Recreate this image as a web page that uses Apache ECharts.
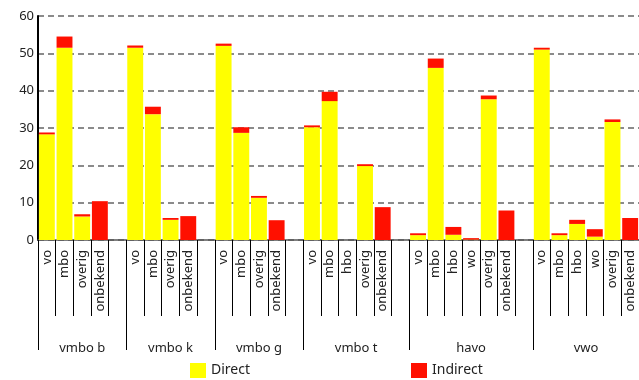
<!DOCTYPE html>
<html>
<head>
<meta charset="utf-8">
<script src="https://cdn.jsdelivr.net/npm/echarts@6/dist/echarts.min.js"></script>
<style>
  html, body { margin: 0; padding: 0; background: #fff; }
  #chart { width: 639px; height: 380px; }
</style>
</head>
<body>
<div id="chart"></div>
<script>
// groepen en subcategorieen
var groups = ['vmbo b', 'vmbo k', 'vmbo g', 'vmbo t', 'havo', 'vwo'];
var groupCats = [
  ['vo', 'mbo', 'overig', 'onbekend'],
  ['vo', 'mbo', 'overig', 'onbekend'],
  ['vo', 'mbo', 'overig', 'onbekend'],
  ['vo', 'mbo', 'hbo', 'overig', 'onbekend'],
  ['vo', 'mbo', 'hbo', 'wo', 'overig', 'onbekend'],
  ['vo', 'mbo', 'hbo', 'wo', 'overig', 'onbekend']
];
var directValues = [
  [28.3, 51.5, 6.3, 0],
  [51.5, 33.7, 5.4, 0],
  [52.0, 28.7, 11.3, 0],
  [30.2, 37.2, 0, 19.8, 0],
  [1.3, 46.1, 1.4, 0.1, 37.7, 0],
  [51.0, 1.3, 4.3, 0.9, 31.6, 0]
];
var indirectValues = [
  [0.5, 3.0, 0.6, 10.4],
  [0.6, 2.0, 0.5, 6.4],
  [0.6, 1.5, 0.5, 5.3],
  [0.5, 2.5, 0, 0.5, 8.8],
  [0.5, 2.5, 2.1, 0.4, 1.0, 7.9],
  [0.5, 0.5, 1.1, 2.0, 0.7, 5.9]
];
var yTicks = [0, 10, 20, 30, 40, 50, 60];

// platte lijsten met een lege kolom tussen de groepen
var cats = [], direct = [], indirect = [];
var bounds = [0], centers = [];
groups.forEach(function (g, i) {
  var start = cats.length;
  groupCats[i].forEach(function (c, j) {
    cats.push(c);
    direct.push(directValues[i][j]);
    indirect.push(indirectValues[i][j]);
  });
  if (i < groups.length - 1) {
    cats.push('');
    direct.push('-');
    indirect.push('-');
  }
  bounds.push(cats.length);
  centers.push((start + cats.length) / 2);
});

var font = 'Noto Sans';
var chart = echarts.init(document.getElementById('chart'));

var option = {
  animation: false,
  textStyle: { fontFamily: font },
  grid: { left: 38, right: 0, top: 16, bottom: 140, containLabel: false },
  legend: {
    left: 185,
    top: 358,
    itemWidth: 16,
    itemHeight: 15,
    itemGap: 161,
    icon: 'rect',
    textStyle: { fontFamily: font, fontSize: 14, color: '#222' },
    data: ['Direct', 'Indirect']
  },
  xAxis: [
    {
      type: 'category',
      data: cats,
      axisLine: { lineStyle: { color: '#555', width: 1.5 } },
      axisTick: { show: true, interval: 0, length: 76, lineStyle: { color: '#000', width: 1 } },
      axisLabel: {
        interval: 0,
        rotate: 90,
        margin: 10,
        fontFamily: font,
        fontSize: 13,
        color: '#222'
      }
    },
    {
      type: 'value',
      min: 0,
      max: cats.length,
      position: 'bottom',
      offset: 76,
      axisLine: { show: false },
      splitLine: { show: false },
      axisTick: {
        show: true,
        length: 34,
        customValues: bounds,
        lineStyle: { color: '#000', width: 1 }
      },
      axisLabel: {
        margin: 26,
        fontFamily: font,
        fontSize: 13,
        color: '#222',
        customValues: centers,
        formatter: function (v) {
          var k = centers.indexOf(v);
          return k >= 0 ? groups[k] : '';
        }
      }
    }
  ],
  yAxis: {
    type: 'value',
    min: yTicks[0],
    max: yTicks[yTicks.length - 1],
    interval: 10,
    axisLine: { show: true, lineStyle: { color: '#000', width: 2 } },
    axisTick: { show: false },
    axisLabel: { margin: 4, fontFamily: font, fontSize: 13, color: '#222' },
    splitLine: { lineStyle: { color: '#666', width: 1.6, type: [6, 4] } }
  },
  series: [
    {
      name: 'Direct',
      type: 'bar',
      stack: 'tot',
      barCategoryGap: '10%',
      data: direct,
      itemStyle: { color: '#ffff00' }
    },
    {
      name: 'Indirect',
      type: 'bar',
      stack: 'tot',
      data: indirect,
      itemStyle: { color: '#ff1000' }
    }
  ]
};

chart.setOption(option);
window.addEventListener('resize', function () {
  chart.resize();
});
</script>
</body>
</html>
